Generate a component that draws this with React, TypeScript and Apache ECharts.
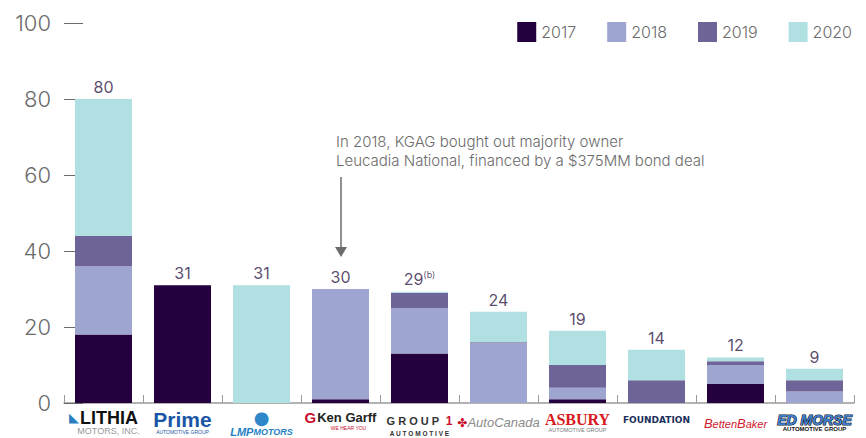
import React, { useEffect, useRef } from "react";
import * as echarts from "echarts";

const categories = [
  "Lithia Motors",
  "Prime Automotive Group",
  "LMP Motors",
  "Ken Garff",
  "Group 1 Automotive",
  "AutoCanada",
  "Asbury Automotive Group",
  "Foundation",
  "BettenBaker",
  "Ed Morse Automotive Group",
];
const years = ["2017", "2018", "2019", "2020"];
const s2017 = [18, 31, 0, 1, 13, 0, 1, 0, 5, 0];
const s2018 = [18, 0, 0, 29, 12, 15.7, 3, 0, 5, 3];
const s2019 = [8, 0, 0, 0, 4, 0.3, 6, 6, 1, 3];
const s2020 = [36, 0, 31, 0, 0.3, 8, 9, 8, 1, 3];
const totals = [80, 31, 31, 30, 29, 24, 19, 14, 12, 9];
const totalLabels = ["80", "31", "31", "30", "29{sup|(b)}", "24", "19", "14", "12", "9"];
const yTicks = [0, 20, 40, 60, 80, 100];
const annotation = [
  "In 2018, KGAG bought out majority owner",
  "Leucadia National, financed by a $375MM bond deal",
];

const colors = ["#24003e", "#9ea5d0", "#6e6498", "#b0e0e2"];

const logoLabels = [
  "{lic|◣}{li|LITHIA}\n{lis|MOTORS, INC.}",
  "{pr|Prime}\n{prs|AUTOMOTIVE GROUP}",
  "{lmpi|●}\n{lmp|LMP}{lmp2|MOTORS}",
  "{kgi|G}{kg|Ken Garff}\n{kgs|WE HEAR YOU}",
  "{g1|G R O U P}{g1n|\u00a0\u00a01}\n{g1s|A U T O M O T I V E}",
  "{acl|✤}{ac|AutoCanada}",
  "{as|ASBURY}\n{ass|AUTOMOTIVE GROUP}",
  "{fd|FOUNDATION}",
  "{bb1|B}{bb|etten}{bb1|B}{bb|aker}",
  "{em|ED MORSE}\n{ems|AUTOMOTIVE GROUP}",
];

export default function App() {
  const ref = useRef<HTMLDivElement>(null);
  useEffect(() => {
    const chart = echarts.init(ref.current!, undefined, { renderer: "svg" });
    const seriesData = [s2017, s2018, s2019, s2020];
    const option: any = {
      animation: false,
      backgroundColor: "#ffffff",
      color: colors,
      grid: { left: 64, right: 12, top: 23, bottom: 35, containLabel: false },
      legend: {
        data: years,
        right: 14,
        top: 22,
        itemWidth: 19,
        itemHeight: 20,
        itemGap: 31,
        padding: 0,
        icon: "rect",
        textStyle: { fontSize: 16, color: "#6b6b6b", fontFamily: "Inter", fontWeight: 300 },
      },
      xAxis: {
        type: "category",
        data: categories,
        axisLine: { show: true, lineStyle: { color: "#9a9a9a", width: 1.5 } },
        axisTick: { show: true, inside: true, length: 8, lineStyle: { color: "#9a9a9a" } },
        axisLabel: {
          interval: 0,
          margin: 6,
          formatter: (_v: string, i: number) => logoLabels[i],
          rich: {
            lic: { fontSize: 13, color: "#2a7fc1", fontFamily: "DejaVu Sans", padding: [0, 1, 0, 0] },
            li: { fontSize: 18, fontWeight: 900, color: "#111", fontFamily: "Liberation Sans", lineHeight: 17 },
            lis: { fontSize: 9, color: "#999", fontFamily: "Liberation Sans", lineHeight: 10, padding: [0, 0, 0, 10] },
            pr: { fontSize: 21, fontWeight: "bold", color: "#1a56a6", fontFamily: "Liberation Sans", lineHeight: 20 },
            prs: { fontSize: 5, color: "#1a56a6", fontFamily: "Liberation Sans", lineHeight: 6 },
            lmpi: { fontSize: 18, color: "#2e87c8", fontFamily: "DejaVu Sans", lineHeight: 16 },
            lmp: { fontSize: 11, fontWeight: "bold", fontStyle: "italic", color: "#1f7fc4", fontFamily: "Liberation Sans", lineHeight: 14 },
            lmp2: { fontSize: 9, fontWeight: "bold", fontStyle: "italic", color: "#1f7fc4", fontFamily: "Liberation Sans", lineHeight: 14 },
            kgi: { fontSize: 15, fontWeight: "bold", color: "#c8102e", fontFamily: "Liberation Sans", padding: [0, 1, 0, 0] },
            kg: { fontSize: 13, fontWeight: "bold", color: "#222", fontFamily: "Liberation Sans", lineHeight: 16 },
            kgs: { fontSize: 5, color: "#c8102e", fontFamily: "Liberation Sans", lineHeight: 6, padding: [0, 0, 0, 16] },
            g1: { fontSize: 11, fontWeight: "bold", color: "#333", fontFamily: "Liberation Sans", lineHeight: 20, padding: [4, 0, 0, 0] },
            g1n: { fontSize: 12, fontWeight: "bold", color: "#c8102e", fontFamily: "Liberation Sans", lineHeight: 20, padding: [4, 0, 0, 0] },
            g1s: { fontSize: 6.5, fontWeight: "bold", color: "#333", fontFamily: "Liberation Sans", lineHeight: 9 },
            acl: { fontSize: 12, color: "#c8102e", fontFamily: "DejaVu Sans", padding: [7, 0, 0, 0] },
            ac: { fontSize: 13, fontStyle: "italic", color: "#8a8a8a", fontFamily: "Liberation Sans", padding: [7, 0, 0, 0] },
            as: { fontSize: 16, fontWeight: "bold", color: "#d71920", fontFamily: "Liberation Serif", lineHeight: 17, padding: [3, 0, 0, 0] },
            ass: { fontSize: 5.5, color: "#777", fontFamily: "Liberation Sans", lineHeight: 8 },
            fd: { fontSize: 9, fontWeight: "bold", color: "#1b2f5c", fontFamily: "DejaVu Sans", padding: [6, 0, 0, 0] },
            bb1: { fontSize: 13, fontStyle: "italic", color: "#d0202e", fontFamily: "Liberation Sans", padding: [8, 0, 0, 0] },
            bb: { fontSize: 11, fontStyle: "italic", color: "#d0202e", fontFamily: "Liberation Sans", padding: [8, 0, 0, 0] },
            em: { fontSize: 14, fontWeight: "bold", fontStyle: "italic", color: "#3f7fd0", textBorderColor: "#111", textBorderWidth: 1.2, fontFamily: "Liberation Sans", lineHeight: 16, padding: [5, 0, 0, 0] },
            ems: { fontSize: 6, fontWeight: "bold", color: "#111", fontFamily: "Liberation Sans", lineHeight: 8 },
          },
        },
      },
      yAxis: {
        type: "value",
        min: 0,
        max: 100,
        interval: 20,
        axisLine: { show: false },
        axisTick: { show: true, inside: true, length: 19, lineStyle: { color: "#6b6b6b" } },
        splitLine: { show: false },
        axisLabel: {
          margin: 13,
          fontSize: 22,
          color: "#6b6b6b",
          fontFamily: "Inter",
          fontWeight: 300,
          formatter: (v: number) => (yTicks.includes(v) ? String(v) : ""),
        },
      },
      series: [
        ...years.map((y, k) => ({
          name: y,
          type: "bar",
          stack: "total",
          barWidth: 57,
          data: seriesData[k],
          itemStyle: { color: colors[k] },
        })),
        {
          name: "total",
          type: "scatter",
          data: totals,
          symbolSize: 0.1,
          itemStyle: { color: "transparent" },
          silent: true,
          label: {
            show: true,
            position: "top",
            distance: 4,
            fontSize: 16,
            color: "#2e1a47",
            fontFamily: "Inter",
            formatter: (p: any) => totalLabels[p.dataIndex],
            rich: {
              sup: { fontSize: 9, color: "#2e1a47", fontFamily: "Inter", verticalAlign: "top", padding: [0, 0, 10, 0] },
            },
          },
        },
      ],
      graphic: [
        {
          type: "text",
          left: 336,
          top: 132,
          style: {
            text: annotation.join("\n"),
            fontSize: 15,
            lineHeight: 19,
            fill: "#6b6b6b",
            fontFamily: "Inter",
            fontWeight: 300,
          },
        },
        {
          type: "line",
          shape: { x1: 341, y1: 177, x2: 341, y2: 249 },
          style: { stroke: "#6b6b6b", lineWidth: 1.5 },
        },
        {
          type: "polygon",
          shape: { points: [[335, 247], [347, 247], [341, 257]] },
          style: { fill: "#6b6b6b" },
        },
      ],
    };
    chart.setOption(option);
    return () => chart.dispose();
  }, []);
  return (
    <div
      ref={ref}
      style={{ position: "fixed", left: 0, top: 0, width: 866, height: 438, background: "#fff" }}
    />
  );
}
